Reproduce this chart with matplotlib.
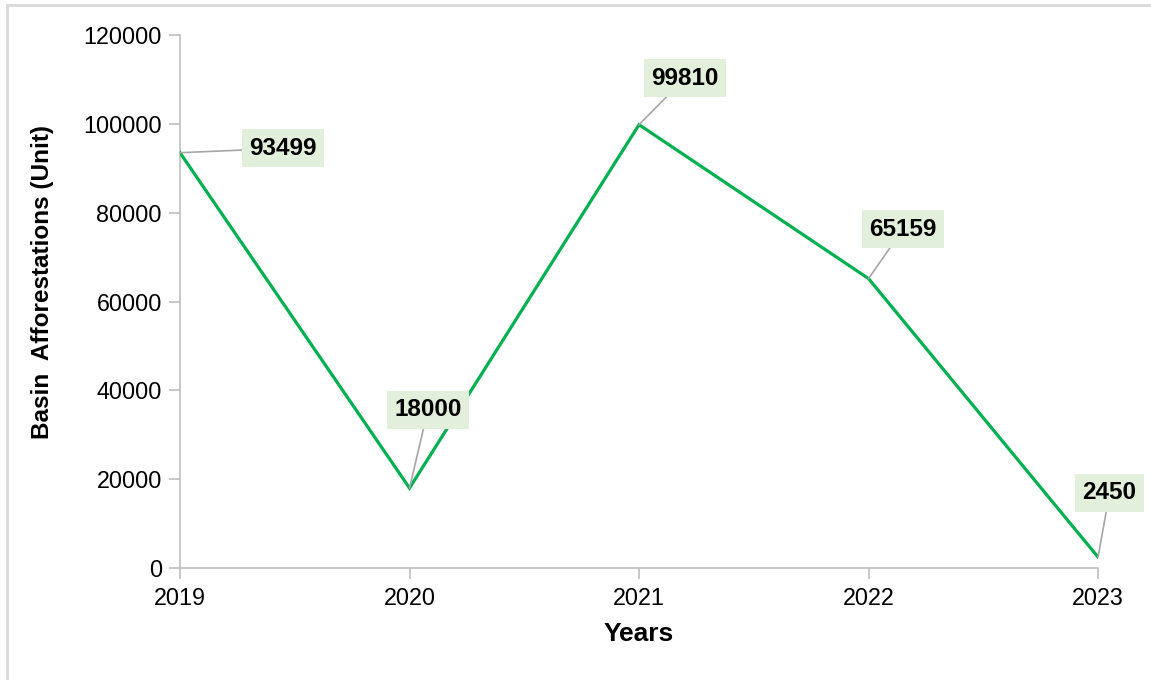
import matplotlib.pyplot as plt
from matplotlib.patches import Rectangle

plt.rcParams['font.family'] = ['Liberation Sans', 'DejaVu Sans']

years = ['2019', '2020', '2021', '2022', '2023']
afforestations = [93499, 18000, 99810, 65159, 2450]
# where each value box sits, in data coordinates
label_pos = [(0.45, 94500), (1.08, 35600), (2.20, 110300), (3.15, 76300), (4.05, 16900)]

fig = plt.figure(figsize=(11.51, 6.8), dpi=100)
ax = fig.add_axes([0.1564, 0.1647, 0.7976, 0.7838])

x = list(range(len(years)))
ax.plot(x, afforestations, color='#00b050', linewidth=2.3, solid_joinstyle='miter', zorder=3)

for i, v in enumerate(afforestations):
    ax.annotate(str(v), xy=(i, v), xytext=label_pos[i], textcoords='data',
                ha='center', va='center', fontsize=17.5, fontweight='bold', color='black',
                bbox=dict(boxstyle='square,pad=0.3', fc='#e2efda', ec='none'),
                arrowprops=dict(arrowstyle='-', color='#a6a6a6', lw=1.2, shrinkA=0, shrinkB=0),
                annotation_clip=False, zorder=4)

ax.set_xlim(0, 4)
ax.set_ylim(0, 120000)
ax.set_xticks(x)
ax.set_xticklabels(years)
ax.set_yticks(range(0, 120001, 20000))

for side in ['top', 'right']:
    ax.spines[side].set_visible(False)
for side in ['left', 'bottom']:
    ax.spines[side].set_color('#bfbfbf')
    ax.spines[side].set_linewidth(1.2)
ax.tick_params(axis='both', colors='#bfbfbf', length=8, width=1.2, labelsize=16.8,
               labelcolor='black')
ax.tick_params(axis='x', pad=6)
ax.tick_params(axis='y', pad=5)

ax.set_xlabel('Years', fontsize=19, fontweight='bold', labelpad=8)
ax.set_ylabel('Basin  Afforestations (Unit)', fontsize=17.5, fontweight='bold')
ax.yaxis.set_label_coords(-0.137, 0.537)

# light frame around the chart
fig.patches.append(Rectangle((7 / 1151, -0.05), 1.1, 1 - 5 / 680 + 0.05,
                             transform=fig.transFigure, fill=False,
                             ec='#d9d9d9', lw=2, zorder=0))

fig.savefig('out.png', dpi=100)
